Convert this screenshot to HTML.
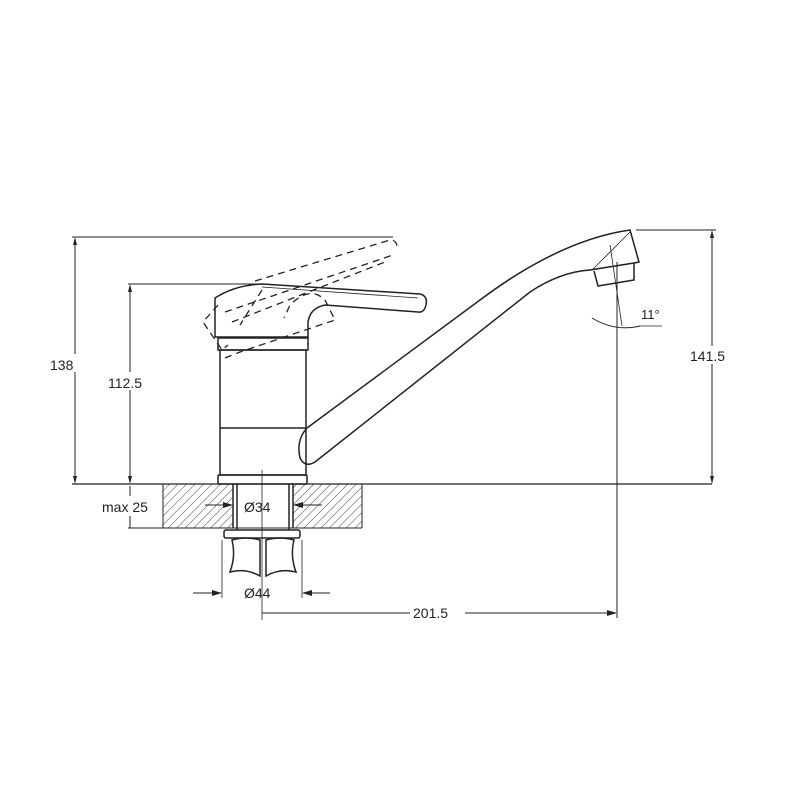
<!DOCTYPE html>
<html><head><style>
html,body{margin:0;padding:0;background:#fff;}
svg{display:block}
text{font-family:"Liberation Sans",sans-serif;font-size:14px;fill:#222}
</style></head><body>
<svg width="800" height="800" viewBox="0 0 800 800" xmlns="http://www.w3.org/2000/svg">
<defs>
<pattern id="h" patternUnits="userSpaceOnUse" width="6" height="6" patternTransform="rotate(45)">
<line x1="0" y1="0" x2="0" y2="6" stroke="#444" stroke-width="1"/>
</pattern>
<marker id="a" markerWidth="10" markerHeight="6" refX="9" refY="3" orient="auto" markerUnits="userSpaceOnUse">
<path d="M0,0 L10,3 L0,6 z" fill="#222"/></marker>
</defs>
<g fill="none" stroke="#222" stroke-width="1.5">
<rect x="163" y="484" width="70" height="44" fill="url(#h)" stroke="none"/>
<rect x="293" y="484" width="69" height="44" fill="url(#h)" stroke="none"/>
<line x1="163" y1="484" x2="163" y2="528" stroke-width="1"/>
<line x1="362" y1="484" x2="362" y2="528" stroke-width="1"/>
<line x1="128" y1="528" x2="362" y2="528" stroke-width="1"/>
<line x1="72" y1="484" x2="712" y2="484" stroke-width="1.2"/>
<line x1="233" y1="484" x2="233" y2="528"/><line x1="237" y1="484" x2="237" y2="530"/>
<line x1="293" y1="484" x2="293" y2="528"/><line x1="289" y1="484" x2="289" y2="530"/>
<line x1="205" y1="505" x2="232" y2="505" stroke-width="1" marker-end="url(#a)"/>
<line x1="322" y1="505" x2="294" y2="505" stroke-width="1" marker-end="url(#a)"/>
<rect x="224" y="530" width="76" height="8" rx="2"/>
<path d="M232,540 Q236,556 230,572 Q246,568 260,576 L260,540 Q246,536 232,540z"/>
<path d="M294,540 Q290,556 296,572 Q280,568 266,576 L266,540 Q280,536 294,540z"/>
<rect x="218" y="475" width="89" height="9" rx="1"/>
<rect x="220" y="350" width="86" height="125"/>
<line x1="220" y1="428" x2="306" y2="428"/>
<rect x="218" y="338" width="90" height="12"/>
<path d="M215,337 L215,298 Q235,285 262,284 L420,294 Q428,296 426,305 Q424,313 418,312 L325,305 Q310,308 308,322 L308,337 Z"/>
<path d="M262,287 L418,298" stroke-width="0.8"/>
<g stroke-dasharray="7,5" stroke-width="1.3">
<path d="M255,281 L390,240 Q398,240 397,250"/>
<path d="M225,312 L393,255"/>
<path d="M232,322 L385,262"/>
<path d="M262,290 L240,325"/>
<path d="M218,305 L203,322 L222,350 L228,345"/>
<path d="M225,358 L240,352 L335,320 L325,300 Q310,285 290,305 L284,318"/>
</g>
<path d="M307,428 Q296,440 300,458 Q305,468 315,462 L530,292 Q560,272 590,270"/>
<path d="M307,428 L480,300 Q560,240 630,230 L639,262 L634,263 L590,270"/>
<path d="M594,271 L598,286 L634,280 L634,263"/>
<path d="M630,232 L592,270" stroke-width="0.8"/>
<line x1="72" y1="237" x2="393" y2="237" stroke-width="1"/>
<line x1="75" y1="239" x2="75" y2="482" stroke-width="1"/>
<line x1="128" y1="284" x2="262" y2="284" stroke-width="1"/>
<line x1="130" y1="286" x2="130" y2="482" stroke-width="1"/>
<line x1="130" y1="486" x2="130" y2="528" stroke-width="1"/>
<line x1="636" y1="230" x2="716" y2="230" stroke-width="1"/>
<line x1="712" y1="232" x2="712" y2="482" stroke-width="1"/>
<line x1="262" y1="470" x2="262" y2="620" stroke-width="0.8"/>
<line x1="617" y1="262" x2="617" y2="618" stroke-width="1"/>
<line x1="610" y1="245" x2="622" y2="326" stroke-width="0.8"/>
<path d="M592,318 Q615,332 640,326" stroke-width="1"/>
<line x1="640" y1="326" x2="662" y2="326" stroke-width="0.8"/>
<line x1="222" y1="540" x2="222" y2="598" stroke-width="0.8"/>
<line x1="302" y1="540" x2="302" y2="598" stroke-width="0.8"/>
<line x1="193" y1="593" x2="221" y2="593" stroke-width="1" marker-end="url(#a)"/>
<line x1="330" y1="593" x2="303" y2="593" stroke-width="1" marker-end="url(#a)"/>
<line x1="262" y1="613" x2="410" y2="613" stroke-width="1"/>
<line x1="465" y1="613" x2="616" y2="613" stroke-width="1" marker-end="url(#a)"/>
</g>
<g fill="#222">
<path d="M75,237 l-2,8 h4z"/><path d="M75,484 l-2,-8 h4z"/>
<path d="M130,284 l-2,8 h4z"/><path d="M130,484 l-2,-8 h4z"/>
<path d="M712,230 l-2,8 h4z"/><path d="M712,484 l-2,-8 h4z"/>
</g>
<rect x="100" y="496" width="62" height="20" fill="#fff"/>
<rect x="48" y="354" width="28" height="18" fill="#fff"/>
<rect x="108" y="372" width="36" height="18" fill="#fff"/>
<rect x="688" y="346" width="40" height="18" fill="#fff"/>
<text x="50" y="370">138</text>
<text x="108" y="388">112.5</text>
<text x="102" y="512">max 25</text>
<text x="244" y="512">Ø34</text>
<text x="244" y="598">Ø44</text>
<text x="413" y="618">201.5</text>
<text x="690" y="361">141.5</text>
<text x="641" y="319" style="font-size:13px">11°</text>
</svg>
</body></html>
